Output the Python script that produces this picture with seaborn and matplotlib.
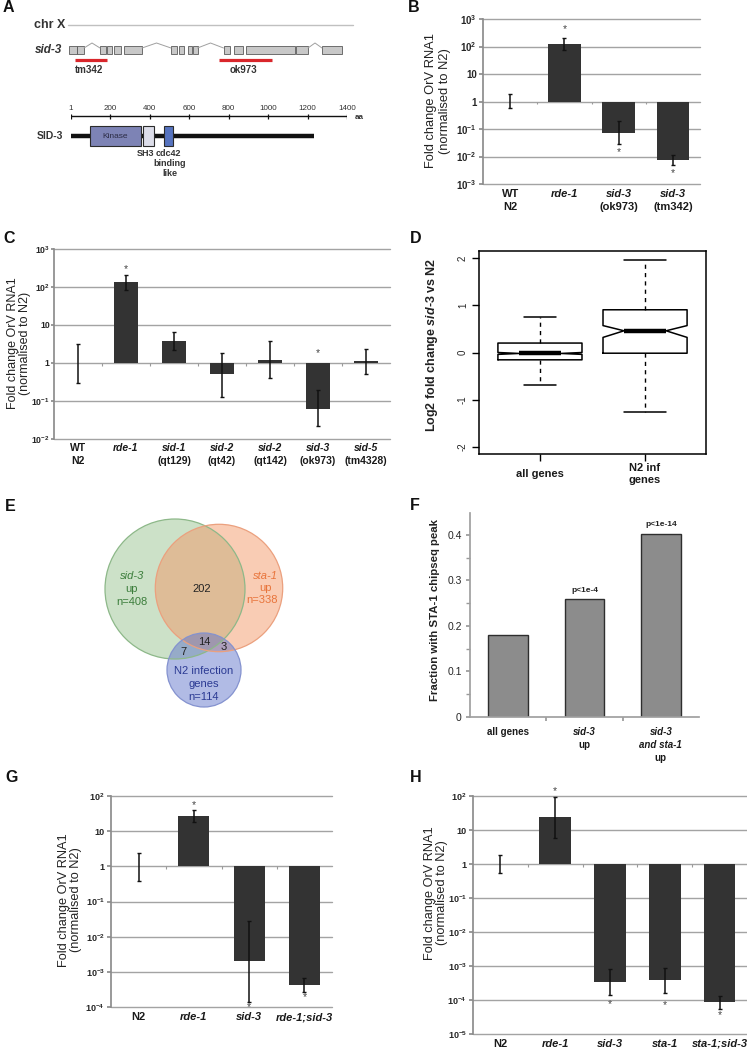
import re
import numpy as np
import pandas as pd
import matplotlib
matplotlib.use("Agg")
import matplotlib.pyplot as plt
import seaborn as sns
from matplotlib.patches import Rectangle, Circle

# ------------------------------------------------------------------ data
# Panel A: sid-3 gene model (genomic positions, drawn in panel pixel scale) and SID-3 protein (aa)
sid3_exons = [(69, 76.5), (77, 84), (100, 106), (107, 112), (113.5, 120.5), (123.5, 142),
              (171, 177), (178.5, 184), (187.5, 191.5), (193, 197.5), (223.5, 229.5),
              (233.5, 242.5), (245.5, 294.5), (296, 308), (322, 341.5)]
sid3_introns = [(84, 100), (142, 171), (197.5, 223.5), (308, 322)]
deletion_names = ['tm342', 'ok973']
deletion_spans = [(75, 107), (219, 272)]
protein_length = 1232
aa_ticks = [1, 200, 400, 600, 800, 1000, 1200, 1400]
domain_names = ['Kinase', 'SH3', 'cdc42']
domain_starts = [97, 366, 472]
domain_ends = [356, 422, 518]
domain_colors = ['#7d83b5', '#dcdde9', '#5673bf']

# Panel B
b_cats = ['WT\nN2', 'rde-1', 'sid-3\n(ok973)', 'sid-3\n(tm342)']
b_fold = [1.0, 126, 0.072, 0.0074]
b_err_lo = [0.56, 74, 0.029, 0.0051]
b_err_hi = [1.95, 205, 0.19, 0.0115]
b_star = [np.nan, 436, 0.0145, 0.0026]

# Panel C
c_cats = ['WT\nN2', 'rde-1', 'sid-1\n(qt129)', 'sid-2\n(qt42)', 'sid-2\n(qt142)',
          'sid-3\n(ok973)', 'sid-5\n(tm4328)']
c_fold = [1.0, 132, 3.7, 0.50, 1.17, 0.063, 1.1]
c_err_lo = [0.30, 85, 2.15, 0.13, 0.40, 0.022, 0.52]
c_err_hi = [3.2, 209, 6.5, 1.87, 3.7, 0.19, 2.4]
c_star = [np.nan, 300, np.nan, np.nan, np.nan, 1.8, np.nan]

# Panel D (box statistics)
d_groups = ['all genes', 'N2 inf\ngenes']
d_whislo = [-0.69, -1.25]
d_q1 = [-0.155, -0.015]
d_med = [-0.02, 0.46]
d_q3 = [0.20, 0.905]
d_whishi = [0.75, 1.96]
d_cilo = [-0.04, 0.32]
d_cihi = [0.00, 0.57]

# Panel E (Venn)
venn_names = ['sid-3', 'sta-1', 'N2 infection']
venn_sizes = [408, 338, 114]
venn_overlap_counts = [202, 14, 7, 3]

# Panel F
f_cats = ['all genes', 'sid-3\nup', 'sid-3\nand sta-1\nup']
f_frac = [0.179, 0.259, 0.402]
f_pval = ['', 'p<1e-4', 'p<1e-14']

# Panel G
g_cats = ['N2', 'rde-1', 'sid-3', 'rde-1;sid-3']
g_fold = [1.0, 27, 0.002, 0.00043]
g_err_lo = [0.39, 18.6, 0.000135, 0.00026]
g_err_hi = [2.45, 40, 0.027, 0.00067]
g_star = [np.nan, 56, 0.0001, 0.000186]

# Panel H
h_cats = ['N2', 'rde-1', 'sid-3', 'sta-1', 'sta-1;sid-3']
h_fold = [1.0, 23.4, 0.00035, 0.00039, 0.000088]
h_err_lo = [0.55, 6.0, 0.000137, 0.00016, 0.000055]
h_err_hi = [1.84, 91, 0.00083, 0.00089, 0.00013]
h_star = [np.nan, 141, 0.0000776, 0.0000724, 0.0000355]

# ------------------------------------------------------------------ style
sns.set_theme(style='white')
plt.rcParams['font.family'] = ['Liberation Sans', 'DejaVu Sans']
plt.rcParams['mathtext.fontset'] = 'custom'
plt.rcParams['mathtext.rm'] = 'Liberation Sans:bold'
plt.rcParams['mathtext.bf'] = 'Liberation Sans:bold'
plt.rcParams['mathtext.it'] = 'Liberation Sans:italic:bold'
plt.rcParams['text.color'] = '#222222'

W, H = 747, 1049
fig = plt.figure(figsize=(W / 100, H / 100), dpi=100)
PT = 0.72  # points per pixel


def px_axes(x0, y0, x1, y1):
    return fig.add_axes([x0 / W, 1 - y1 / H, (x1 - x0) / W, (y1 - y0) / H])


def fig_text(x, y, s, **kw):
    return fig.text(x / W, 1 - y / H, s, **kw)


GENE_RE = re.compile(r'^(and )?[a-z]{3}-\d')


def cat_labels(ax, labels, fs, top_px, line_px, positions=None):
    positions = list(range(len(labels))) if positions is None else positions
    for x, lab in zip(positions, labels):
        for j, line in enumerate(lab.split('\n')):
            ax.annotate(line, xy=(x, 0), xycoords=('data', 'axes fraction'),
                        xytext=(0, -(top_px + j * line_px) * PT), textcoords='offset points',
                        ha='center', va='top', fontsize=fs, fontweight='bold',
                        fontstyle='italic' if GENE_RE.match(line) else 'normal',
                        annotation_clip=False, color='#1a1a1a')


def dec_label(k):
    if k == 0:
        return '1'
    if k == 1:
        return '10'
    return r'$\mathbf{10^{%d}}$' % k


def log_bar_panel(ax, cats, fold, lo, hi, star, ymin, ymax, width, tick_fs, lab_fs, lab_top, lab_line):
    df = pd.DataFrame({'cat': cats, 'logfold': np.log10(fold)})
    sns.barplot(data=df, x='cat', y='logfold', color='#333333', saturation=1, width=width,
                errorbar=None, ax=ax, linewidth=0, zorder=3)
    x = np.arange(len(cats))
    y = np.log10(fold)
    ax.errorbar(x, y, yerr=[y - np.log10(lo), np.log10(hi) - y], fmt='none', ecolor='#111111',
                elinewidth=1.1, capsize=1.5, capthick=1.0, zorder=4)
    for xi, s in zip(x, star):
        if not np.isnan(s):
            ax.text(xi, np.log10(s), '*', ha='center', va='center', fontsize=7.5, color='#444444')
    ax.set_xlim(-0.5, len(cats) - 0.5)
    ax.set_ylim(ymin, ymax)
    ticks = np.arange(ymin, ymax + 1)
    ax.set_yticks(ticks)
    ax.set_yticklabels([dec_label(k) for k in ticks], fontsize=tick_fs, fontweight='bold')
    ax.yaxis.grid(True, color='#a3a3a3', lw=1.0)
    for gl in ax.get_ygridlines():
        gl.set_clip_on(False)
    ax.set_axisbelow(True)
    ax.set_xticks([])
    ax.set_xlabel('')
    ax.set_ylabel('')
    for sp in ['top', 'right', 'bottom']:
        ax.spines[sp].set_visible(False)
    ax.spines['left'].set_color('#8c8c8c')
    ax.tick_params(axis='y', left=True, length=3, color='#8c8c8c', pad=1.5)
    ax.vlines(np.arange(0.5, len(cats) - 0.5), -0.08 * (ymax - ymin) / 6, 0, color='#9a9a9a', lw=0.8)
    cat_labels(ax, cats, lab_fs, lab_top, lab_line)


def panel_letter(x, y, s):
    fig_text(x, y, s, fontsize=11.5, fontweight='bold', ha='left', va='center', color='#111111')


# ------------------------------------------------------------------ Panel A
axA = px_axes(0, 0, 380, 230)
axA.set_xlim(0, 380)
axA.set_ylim(230, 0)
axA.axis('off')
axA.plot([68, 353], [25, 25], color='#c0c0c0', lw=1)
axA.text(65, 25, 'chr X', ha='right', va='center', fontsize=9, fontweight='bold', color='#333333')
axA.text(62, 50, 'sid-3', ha='right', va='center', fontsize=8.5, fontweight='bold',
         fontstyle='italic', color='#333333')
for s, e in sid3_introns:
    axA.plot([s, (s + e) / 2, e], [48, 43, 48], color='#a0a0a0', lw=0.7)
for s, e in sid3_exons:
    axA.add_patch(Rectangle((s, 46), e - s, 8, facecolor='#c8c8c8', edgecolor='#5a5a5a', lw=0.6))
for name, (s, e) in zip(deletion_names, deletion_spans):
    axA.plot([s, e], [60, 60], color='#d9262b', lw=2.3, solid_capstyle='butt')
    axA.text((s + e) / 2 - 2, 70, name, ha='center', va='center', fontsize=7, fontweight='bold',
             color='#333333')
axA.text(63, 136, 'SID-3', ha='right', va='center', fontsize=7.5, fontweight='bold', color='#333333')

axP = px_axes(71, 95, 347, 185)
axP.set_xlim(1, 1400)
axP.set_ylim(185, 95)
axP.axis('off')
axP.plot([1, 1400], [116, 116], color='#111111', lw=1)
axP.vlines(aa_ticks, 113.5, 118.5, color='#111111', lw=0.9)
for t in aa_ticks:
    axP.text(t, 108, str(t), ha='center', va='center', fontsize=5.8, color='#333333')
axP.text(1440, 117.5, 'aa', ha='left', va='center', fontsize=5.8, fontweight='bold', color='#333333')
axP.plot([1, protein_length], [136, 136], color='#111111', lw=3.2, solid_capstyle='butt', zorder=2)
for name, s, e, c in zip(domain_names, domain_starts, domain_ends, domain_colors):
    axP.add_patch(Rectangle((s, 126), e - s, 20, facecolor=c, edgecolor='#2b2b2b', lw=0.8, zorder=3))
axP.text((domain_starts[0] + domain_ends[0]) / 2, 136, domain_names[0], ha='center', va='center',
         fontsize=6, color='#2b2b44', zorder=4)
axP.text(381, 154, 'SH3', ha='center', va='center', fontsize=6.5, fontweight='bold', color='#333333')
axP.text(493, 154, 'cdc42', ha='center', va='center', fontsize=6.5, fontweight='bold', color='#333333')
axP.text(503, 164, 'binding', ha='center', va='center', fontsize=6.5, fontweight='bold', color='#333333')
axP.text(503, 173, 'like', ha='center', va='center', fontsize=6.5, fontweight='bold', color='#333333')

# ------------------------------------------------------------------ Panel B
axB = px_axes(483, 19, 700, 184)
log_bar_panel(axB, b_cats, b_fold, b_err_lo, b_err_hi, b_star, -3, 3, 0.6, 7, 8, 5, 13)
fig_text(438, 101, 'Fold change OrV RNA1\n(normalised to N2)', rotation=90, ha='center',
         va='center', multialignment='center', fontsize=9.3, linespacing=1.15)

# ------------------------------------------------------------------ Panel C
axC = px_axes(54, 249, 390, 439)
log_bar_panel(axC, c_cats, c_fold, c_err_lo, c_err_hi, c_star, -2, 3, 0.51, 6.3, 7.5, 4, 13)
axC.tick_params(axis='y', length=2, pad=1)
fig_text(19, 343, 'Fold change OrV RNA1\n(normalised to N2)', rotation=90, ha='center',
         va='center', multialignment='center', fontsize=9, linespacing=1.05)

# ------------------------------------------------------------------ Panel D
axD = px_axes(479, 251, 706, 454)
stats = [dict(med=m, q1=a, q3=b, whislo=wl, whishi=wh, cilo=cl, cihi=ch, label=g)
         for g, wl, a, m, b, wh, cl, ch in zip(d_groups, d_whislo, d_q1, d_med, d_q3, d_whishi,
                                               d_cilo, d_cihi)]
axD.bxp(stats, positions=[1, 2], widths=0.8, shownotches=True, showfliers=False,
        capwidths=[0.3, 0.4],
        boxprops=dict(color='black', lw=1.1),
        medianprops=dict(color='black', lw=3.2, solid_capstyle='butt'),
        whiskerprops=dict(color='black', lw=1.0, linestyle=(0, (3, 3))),
        capprops=dict(color='black', lw=1.1))
axD.set_xlim(0.42, 2.58)
axD.set_ylim(-2.15, 2.15)
axD.set_yticks([-2, -1, 0, 1, 2])
axD.set_yticklabels(['-2', '-1', '0', '1', '2'], rotation=90, va='center', fontsize=7)
axD.set_xticks([1, 2])
axD.set_xticklabels(['', ''])
axD.tick_params(left=True, bottom=True, direction='out', length=5, width=1, color='black', pad=3)
for sp in axD.spines.values():
    sp.set_color('black')
    sp.set_linewidth(1.1)
for pos, lab in zip([1, 2], d_groups):
    lines = lab.split('\n')
    for j, line in enumerate(lines):
        off = 20 - (len(lines) - 1) * 6 + j * 12
        axD.annotate(line, xy=(pos, 0), xycoords=('data', 'axes fraction'),
                     xytext=(0, -off * PT), textcoords='offset points', ha='center', va='center',
                     fontsize=8, fontweight='bold', annotation_clip=False, color='#1a1a1a')
fig_text(432, 345, r'Log2 fold change $\mathit{sid}$-$\mathit{3}$ vs N2', rotation=90, ha='center',
         va='center', fontsize=9, fontweight='bold')

# ------------------------------------------------------------------ Panel E
axE = px_axes(0, 480, 380, 730)
axE.set_xlim(0, 380)
axE.set_ylim(730, 480)
axE.axis('off')
k_r = 70 / np.sqrt(venn_sizes[0])
venn_centers = [(175, 589), (219, 588), (204, 670)]
venn_fill = ['#93c08b', '#f39360', '#5a6fc8']
venn_edge = ['#8db889', '#eba07e', '#8492cf']
for (cx, cy), n, fc, ec in zip(venn_centers, venn_sizes, venn_fill, venn_edge):
    axE.add_patch(Circle((cx, cy), k_r * np.sqrt(n), facecolor=fc, alpha=0.47, edgecolor='none'))
for (cx, cy), n, fc, ec in zip(venn_centers, venn_sizes, venn_fill, venn_edge):
    axE.add_patch(Circle((cx, cy), k_r * np.sqrt(n), facecolor='none', edgecolor=ec, lw=0.9))
green_t, orange_t, blue_t = '#3b7d3b', '#e8743b', '#2b3a93'
axE.text(132, 576, venn_names[0], ha='center', va='center', fontsize=8, fontstyle='italic', color=green_t)
axE.text(132, 589, 'up', ha='center', va='center', fontsize=8, color=green_t)
axE.text(132, 602, 'n=%d' % venn_sizes[0], ha='center', va='center', fontsize=8, color=green_t)
axE.text(265, 576, venn_names[1], ha='center', va='center', fontsize=8, fontstyle='italic', color=orange_t)
axE.text(265, 588, 'up', ha='center', va='center', fontsize=8, color=orange_t)
axE.text(262, 600, 'n=%d' % venn_sizes[1], ha='center', va='center', fontsize=8, color=orange_t)
axE.text(204, 671, venn_names[2], ha='center', va='center', fontsize=8, color=blue_t)
axE.text(204, 684, 'genes', ha='center', va='center', fontsize=8, color=blue_t)
axE.text(204, 697, 'n=%d' % venn_sizes[2], ha='center', va='center', fontsize=8, color=blue_t)
for (tx, ty), cnt in zip([(202, 589), (204, 642), (183, 652), (224, 647)], venn_overlap_counts):
    axE.text(tx, ty, str(cnt), ha='center', va='center', fontsize=8, color='#222222')

# ------------------------------------------------------------------ Panel F
axF = px_axes(470, 513, 699, 717)
dfF = pd.DataFrame({'cat': f_cats, 'frac': f_frac})
sns.barplot(data=dfF, x='cat', y='frac', color='#8c8c8c', saturation=1, width=0.52,
            errorbar=None, edgecolor='#2e2e2e', linewidth=1.0, ax=axF)
axF.set_xlim(-0.5, 2.5)
axF.set_ylim(0, 0.448)
axF.set_yticks([0, 0.1, 0.2, 0.3, 0.4])
axF.set_yticklabels(['0', '0.1', '0.2', '0.3', '0.4'], fontsize=7.5)
axF.set_yticks(np.arange(0.05, 0.45, 0.1), minor=True)
axF.set_xticks([0.5, 1.5])
axF.set_xticklabels(['', ''])
axF.set_xlabel('')
axF.set_ylabel('')
axF.tick_params(axis='y', which='both', left=True, length=3, color='#9a9a9a', pad=3)
axF.tick_params(axis='x', bottom=True, length=3, color='#9a9a9a')
for sp in ['top', 'right']:
    axF.spines[sp].set_visible(False)
for sp in ['left', 'bottom']:
    axF.spines[sp].set_color('#a0a0a0')
for i, (v, p) in enumerate(zip(f_frac, f_pval)):
    if p:
        axF.text(i, v + 0.012, p, ha='center', va='bottom', fontsize=6, fontweight='bold', color='#222222')
cat_labels(axF, f_cats, 7, 10, 13)
fig_text(435, 610, 'Fraction with STA-1 chipseq peak', rotation=90, ha='center', va='center',
         fontsize=8.2, fontweight='bold')

# ------------------------------------------------------------------ Panel G
axG = px_axes(111, 796, 332, 1007)
log_bar_panel(axG, g_cats, g_fold, g_err_lo, g_err_hi, g_star, -4, 2, 0.56, 6.5, 8, 5, 13)
fig_text(70, 900, 'Fold change OrV RNA1\n(normalised to N2)', rotation=90, ha='center',
         va='center', multialignment='center', fontsize=9.2, linespacing=1.1)

# ------------------------------------------------------------------ Panel H
axH = px_axes(473, 796, 747, 1034)
log_bar_panel(axH, h_cats, h_fold, h_err_lo, h_err_hi, h_star, -5, 2, 0.58, 6.5, 8, 5, 13)
fig_text(436, 893, 'Fold change OrV RNA1\n(normalised to N2)', rotation=90, ha='center',
         va='center', multialignment='center', fontsize=9.2, linespacing=1.1)

# ------------------------------------------------------------------ panel letters
for x, y, s in [(3, 8, 'A'), (408, 8, 'B'), (3, 238, 'C'), (410, 238, 'D'),
                (5, 507, 'E'), (410, 505, 'F'), (5, 778, 'G'), (410, 778, 'H')]:
    panel_letter(x, y, s)

fig.savefig('out.png', dpi=100, facecolor='white')
